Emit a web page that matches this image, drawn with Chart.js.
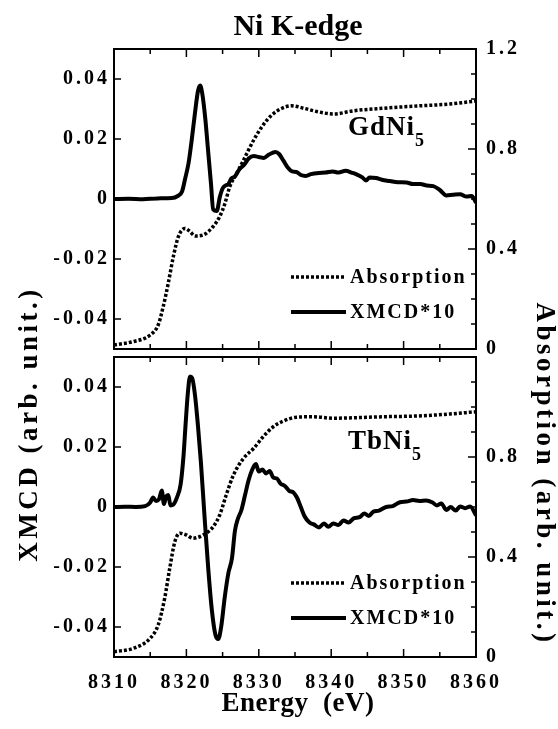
<!DOCTYPE html>
<html lang="en">
<head>
<meta charset="UTF-8">
<title>Ni K-edge XMCD</title>
<script src="https://cdn.jsdelivr.net/npm/chart.js"></script>
<style>
  html, body { margin: 0; padding: 0; background: #fff; }
  #wrap { position: relative; width: 558px; height: 729px; }
  #wrap canvas { position: absolute; left: 0; top: 0; }
</style>
</head>
<body>
<div id="wrap">
  <canvas id="gdChart" width="558" height="729"></canvas>
  <canvas id="tbChart" width="558" height="729"></canvas>
</div>
<script>
// tick labels
const energyTicks = [8310, 8320, 8330, 8340, 8350, 8360];
const xmcdTicks = [-0.04, -0.02, 0, 0.02, 0.04];
const absTicksTop = [0, 0.4, 0.8, 1.2];
const absTicksBottom = [0, 0.4, 0.8];

// GdNi5 - absorption (right axis)
const gdAbsEnergy = [8310, 8312.7, 8315.0, 8316.1, 8316.8, 8317.5, 8318.2, 8318.9, 8319.8, 8320.5,
  8321.2, 8322.3, 8323.7, 8324.6, 8325.3, 8326.0, 8326.9, 8327.9, 8329.3, 8330.6,
  8331.8, 8333.2, 8334.5, 8336.2, 8338.0, 8340.3, 8343.1, 8347.2, 8351.8, 8356.4, 8360];
const gdAbs = [0.016, 0.030, 0.056, 0.096, 0.170, 0.264, 0.370, 0.450, 0.482, 0.470,
  0.452, 0.456, 0.490, 0.530, 0.580, 0.650, 0.700, 0.756, 0.836, 0.896,
  0.936, 0.963, 0.973, 0.963, 0.950, 0.940, 0.953, 0.963, 0.972, 0.980, 0.992];

// GdNi5 - XMCD*10 (left axis)
const gdXmcdEnergy = [8310, 8312, 8314, 8316, 8318, 8318.8, 8319.4, 8319.8, 8320.3, 8320.7,
  8321.2, 8321.6, 8321.9, 8322.2, 8322.6, 8323.0, 8323.4, 8323.7, 8324.2, 8324.6,
  8325.0, 8325.4, 8325.8, 8326.2, 8326.7, 8327.3, 8328.0, 8328.6, 8329.3, 8330.0,
  8330.7, 8331.4, 8332.3, 8332.8, 8333.4, 8334.0, 8334.6, 8335.2, 8335.8, 8336.5,
  8337.2, 8338.3, 8339.2, 8340.2, 8341.0, 8342.0, 8342.8, 8343.5, 8344.3, 8344.8,
  8345.3, 8346.2, 8347.0, 8348.1, 8349.2, 8350.4, 8351.3, 8352.3, 8353.2, 8354.1,
  8355.0, 8355.9, 8356.8, 8357.8, 8358.7, 8359.4, 8360];
const gdXmcd = [0.0000, 0.0001, -0.0001, 0.0002, 0.0003, 0.0010, 0.0025, 0.0065, 0.0120, 0.0190,
  0.0290, 0.0360, 0.0378, 0.0350, 0.0270, 0.0160, 0.0050, -0.0035, -0.0040, 0.0005,
  0.0035, 0.0045, 0.0050, 0.0068, 0.0075, 0.0098, 0.0115, 0.0135, 0.0143, 0.0140,
  0.0137, 0.0148, 0.0157, 0.0150, 0.0128, 0.0105, 0.0092, 0.0090, 0.0080, 0.0077,
  0.0083, 0.0087, 0.0088, 0.0092, 0.0088, 0.0094, 0.0088, 0.0082, 0.0072, 0.0062,
  0.0072, 0.0070, 0.0064, 0.0060, 0.0056, 0.0055, 0.0050, 0.0050, 0.0045, 0.0043,
  0.0030, 0.0012, 0.0014, 0.0016, 0.0008, 0.0010, -0.0012];

// TbNi5 - absorption (right axis)
const tbAbsEnergy = [8310, 8312.7, 8315.0, 8316.1, 8317.0, 8317.7, 8318.4, 8319.1, 8320.0, 8320.9,
  8322.3, 8323.7, 8324.6, 8325.5, 8326.5, 8327.9, 8329.3, 8330.6, 8332.0, 8333.4,
  8335.2, 8337.5, 8340.3, 8343.0, 8347.2, 8351.8, 8356.4, 8360];
const tbAbs = [0.021, 0.035, 0.075, 0.128, 0.235, 0.355, 0.461, 0.495, 0.488, 0.475,
  0.488, 0.521, 0.568, 0.648, 0.728, 0.795, 0.835, 0.881, 0.921, 0.944,
  0.959, 0.961, 0.955, 0.957, 0.961, 0.964, 0.972, 0.981];

// TbNi5 - XMCD*10 (left axis)
const tbXmcdEnergy = [8310, 8311.5, 8313, 8314.3, 8315.0, 8315.4, 8315.8, 8316.2, 8316.6, 8316.9,
  8317.2, 8317.5, 8317.8, 8318.2, 8318.7, 8319.2, 8319.6, 8319.9, 8320.2, 8320.5,
  8320.8, 8321.2, 8321.6, 8322.0, 8322.5, 8323.0, 8323.5, 8324.0, 8324.4, 8324.8,
  8325.3, 8325.8, 8326.3, 8326.7, 8327.1, 8327.6, 8328.1, 8328.6, 8329.1, 8329.6,
  8330.0, 8330.5, 8331.0, 8331.5, 8332.0, 8332.5, 8333.0, 8333.6, 8334.2, 8334.8,
  8335.3, 8335.8, 8336.3, 8337.0, 8337.6, 8338.3, 8339.0, 8339.6, 8340.3, 8341.0,
  8341.7, 8342.4, 8343.1, 8343.9, 8344.6, 8345.2, 8345.8, 8346.6, 8347.6, 8348.5,
  8349.5, 8350.4, 8351.3, 8352.2, 8353.1, 8354.0, 8354.6, 8355.2, 8355.9, 8356.5,
  8357.2, 8357.8, 8358.5, 8359.2, 8360];
const tbXmcd = [0.0000, 0.0001, 0.0000, 0.0003, 0.0015, 0.0032, 0.0020, 0.0025, 0.0055, 0.0010,
  0.0035, 0.0040, 0.0005, 0.0008, 0.0032, 0.0075, 0.0170, 0.0280, 0.0380, 0.0435,
  0.0430, 0.0370, 0.0270, 0.0150, -0.0030, -0.0200, -0.0340, -0.0425, -0.0440, -0.0400,
  -0.0300, -0.0220, -0.0170, -0.0080, -0.0040, -0.0010, 0.0040, 0.0090, 0.0125, 0.0143,
  0.0118, 0.0125, 0.0112, 0.0120, 0.0098, 0.0095, 0.0078, 0.0070, 0.0054, 0.0048,
  0.0030, 0.0000, -0.0030, -0.0052, -0.0058, -0.0068, -0.0055, -0.0066, -0.0055, -0.0060,
  -0.0045, -0.0052, -0.0038, -0.0034, -0.0022, -0.0030, -0.0016, -0.0012, 0.0000, 0.0003,
  0.0016, 0.0018, 0.0023, 0.0020, 0.0022, 0.0015, 0.0005, 0.0012, -0.0010, 0.0000,
  -0.0012, 0.0002, -0.0004, 0.0002, -0.0028];

const SERIF = "'Liberation Serif', 'Times New Roman', serif";
const tickFont = { family: SERIF, size: 20, weight: 'bold' };

function zip(xs, ys) {
  return xs.map((x, i) => ({ x: x, y: ys[i] }));
}

// frame, inward ticks, legend and text labels
const decor = {
  id: 'decor',
  beforeDraw(chart) {
    chart.ctx.letterSpacing = '3px';
  },
  afterDatasetsDraw(chart, args, opts) {
    const { ctx, chartArea: a, scales } = chart;
    ctx.save();
    ctx.letterSpacing = '0px';
    ctx.strokeStyle = '#000';
    ctx.fillStyle = '#000';
    ctx.setLineDash([]);

    ctx.lineWidth = 2;
    ctx.strokeRect(a.left, a.top, a.right - a.left, a.bottom - a.top);

    ctx.lineWidth = 1.5;
    ctx.beginPath();
    for (let v = scales.x.min + 5; v < scales.x.max; v += 5) {
      const px = scales.x.getPixelForValue(v);
      const len = v % 10 === 0 ? 8 : 5;
      ctx.moveTo(px, a.bottom); ctx.lineTo(px, a.bottom - len);
      ctx.moveTo(px, a.top); ctx.lineTo(px, a.top + len);
    }
    xmcdTicks.forEach(v => {
      const py = scales.y.getPixelForValue(v);
      ctx.moveTo(a.left, py); ctx.lineTo(a.left + 7, py);
    });
    for (let i = 1; i < 12; i++) {
      const py = scales.y1.getPixelForValue(i / 10);
      const len = i % 4 === 0 ? 8 : 5;
      ctx.moveTo(a.right, py); ctx.lineTo(a.right - len, py);
    }
    ctx.stroke();

    // legend
    const lx = a.right - 185;
    chart.data.datasets.forEach((ds, i) => {
      const y = a.top + opts.legendTop + i * 35;
      ctx.lineWidth = ds.borderWidth;
      ctx.setLineDash(ds.borderDash || []);
      ctx.beginPath();
      ctx.moveTo(lx, y); ctx.lineTo(lx + 55, y);
      ctx.stroke();
      ctx.setLineDash([]);
      ctx.letterSpacing = '2px';
      ctx.font = 'bold 20px ' + SERIF;
      ctx.textBaseline = 'middle';
      ctx.textAlign = 'left';
      ctx.fillText(ds.label, lx + 59, y + 1);
    });

    // sample name with subscript
    ctx.letterSpacing = '1px';
    ctx.textBaseline = 'alphabetic';
    ctx.font = 'bold 27px ' + SERIF;
    const sx = a.right - 128, sy = a.top + opts.nameBase;
    ctx.fillText(opts.name, sx, sy);
    const w = ctx.measureText(opts.name).width;
    ctx.font = 'bold 18px ' + SERIF;
    ctx.fillText(opts.sub, sx + w, sy + 11);

    if (opts.title) {
      ctx.letterSpacing = '0px';
      ctx.font = 'bold 30px ' + SERIF;
      ctx.textAlign = 'center';
      ctx.fillText(opts.title, (a.left + a.right) / 2 + 3, 35);
    }

    if (opts.axisTitles) {
      ctx.textAlign = 'center';
      ctx.textBaseline = 'alphabetic';
      ctx.font = 'bold 27px ' + SERIF;
      ctx.letterSpacing = '0.5px';
      ctx.fillText('Energy  (eV)', (a.left + a.right) / 2 + 3, 711);

      ctx.letterSpacing = '3.5px';
      ctx.save();
      ctx.translate(37, 424);
      ctx.rotate(-Math.PI / 2);
      ctx.fillText('XMCD (arb. unit.)', 0, 0);
      ctx.restore();

      ctx.save();
      ctx.translate(537, 474);
      ctx.rotate(Math.PI / 2);
      ctx.fillText('Absorption (arb. unit.)', 0, 0);
      ctx.restore();
    }
    ctx.restore();
  }
};

function panelOptions(cfg) {
  const hidden = { display: false, drawTicks: false };
  return {
    responsive: false,
    animation: false,
    events: [],
    layout: { padding: { left: 0, right: 0, top: cfg.top, bottom: 0 } },
    plugins: { legend: { display: false }, tooltip: { enabled: false }, decor: cfg.decor },
    scales: {
      x: {
        type: 'linear', position: 'bottom', min: 8310, max: 8360,
        grid: hidden, border: { display: false },
        afterBuildTicks: s => { s.ticks = energyTicks.map(v => ({ value: v })); },
        afterFit: s => { s.height = 729 - cfg.bottom; },
        ticks: {
          display: cfg.showEnergy, padding: 14, font: tickFont, color: '#000',
          autoSkip: false, minRotation: 0, maxRotation: 0,
          callback: v => String(v)
        }
      },
      y: {
        type: 'linear', position: 'left', min: -0.05, max: 0.05,
        grid: hidden, border: { display: false },
        afterBuildTicks: s => { s.ticks = xmcdTicks.map(v => ({ value: v })); },
        afterFit: s => { s.width = 114; },
        ticks: { padding: 4, font: tickFont, color: '#000', callback: v => v === 0 ? '0' : v.toFixed(2) }
      },
      y1: {
        type: 'linear', position: 'right', min: 0, max: 1.2,
        grid: hidden, border: { display: false },
        afterBuildTicks: s => { s.ticks = cfg.absTicks.map(v => ({ value: v })); },
        afterFit: s => { s.width = 558 - 476; },
        ticks: { padding: 10, font: tickFont, color: '#000', callback: v => v === 0 ? '0' : v.toFixed(1) }
      }
    }
  };
}

function panelData(absE, abs, xmcdE, xmcd) {
  return {
    datasets: [
      {
        label: 'Absorption', data: zip(absE, abs), yAxisID: 'y1',
        borderColor: '#000', borderWidth: 3.5, borderDash: [3, 2],
        pointRadius: 0, cubicInterpolationMode: 'monotone', fill: false
      },
      {
        label: 'XMCD*10', data: zip(xmcdE, xmcd), yAxisID: 'y',
        borderColor: '#000', borderWidth: 4,
        pointRadius: 0, cubicInterpolationMode: 'monotone', fill: false
      }
    ]
  };
}

new Chart(document.getElementById('gdChart'), {
  type: 'line',
  data: panelData(gdAbsEnergy, gdAbs, gdXmcdEnergy, gdXmcd),
  options: panelOptions({
    top: 49, bottom: 349, showEnergy: false, absTicks: absTicksTop,
    decor: { legendTop: 228, nameBase: 86, name: 'GdNi', sub: '5', title: 'Ni K-edge' }
  }),
  plugins: [decor]
});

new Chart(document.getElementById('tbChart'), {
  type: 'line',
  data: panelData(tbAbsEnergy, tbAbs, tbXmcdEnergy, tbXmcd),
  options: panelOptions({
    top: 357, bottom: 657, showEnergy: true, absTicks: absTicksBottom,
    decor: { legendTop: 226, nameBase: 92, name: 'TbNi', sub: '5', axisTitles: true }
  }),
  plugins: [decor]
});
</script>
</body>
</html>
